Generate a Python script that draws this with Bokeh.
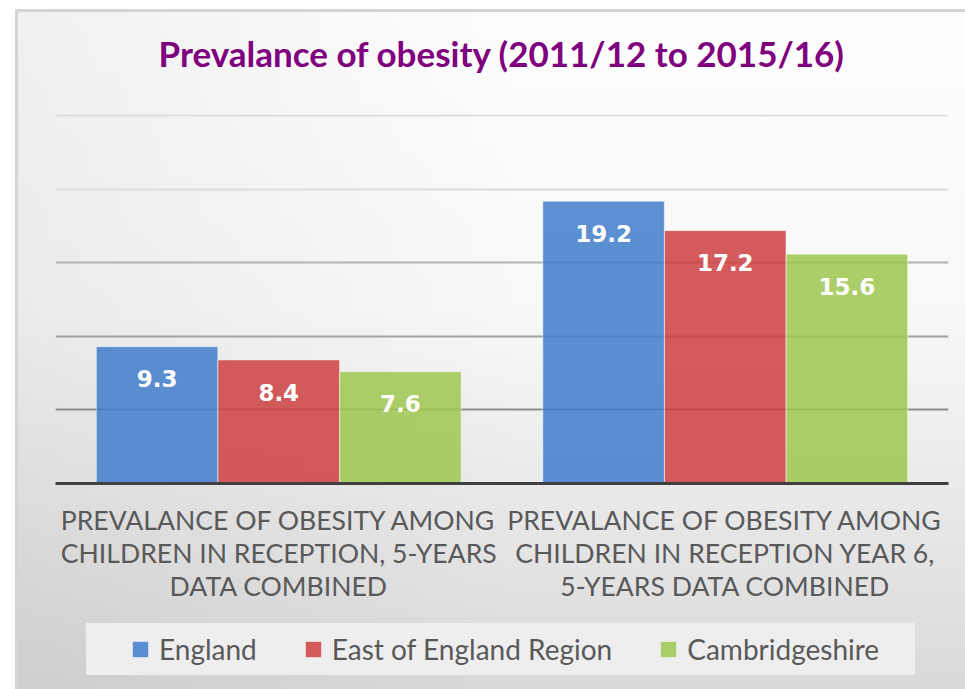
from bokeh.plotting import figure
from bokeh.layouts import column
from bokeh.models import (FactorRange, Range1d, ColumnDataSource, Grid, FixedTicker,
                          Legend, LegendItem)
from bokeh.transform import dodge
from bokeh.core.properties import value
from bokeh.embed import file_html
from bokeh.resources import INLINE

# ---- data ----
categories = [
    "PREVALANCE OF OBESITY AMONG\nCHILDREN IN RECEPTION, 5-YEARS\nDATA COMBINED",
    "PREVALANCE OF OBESITY AMONG\nCHILDREN IN RECEPTION YEAR 6,\n5-YEARS DATA COMBINED",
]
series_names = ["England", "East of England Region", "Cambridgeshire"]
england = [9.3, 19.2]
east_of_england = [8.4, 17.2]
cambridgeshire = [7.6, 15.6]

colors = ["#3F7CCA", "#CE403F", "#9FC74F"]
offsets = [-0.2725, 0.0, 0.2725]
series_cols = ["england", "east", "cambs"]
label_cols = ["england_lbl", "east_lbl", "cambs_lbl"]

src = ColumnDataSource(dict(
    cat=categories,
    england=england, east=east_of_england, cambs=cambridgeshire,
    england_lbl=[f"{v:.1f}" for v in england],
    east_lbl=[f"{v:.1f}" for v in east_of_england],
    cambs_lbl=[f"{v:.1f}" for v in cambridgeshire],
))


def transparent(fig):
    fig.background_fill_alpha = 0
    fig.border_fill_alpha = 0
    fig.outline_line_color = None


# ---- title strip ----
t = figure(width=965, height=80, x_range=Range1d(0, 1), y_range=Range1d(0, 1),
           x_axis_location=None, y_axis_location=None,
           output_backend="svg", toolbar_location=None,
           min_border_left=55, min_border_right=17, min_border_top=73, min_border_bottom=0,
           title="Prevalance of obesity (2011/12 to 2015/16)")
transparent(t)
t.grid.visible = False
t.title.align = "center"
t.title.text_font = "Lato"
t.title.text_font_style = "bold"
t.title.text_font_size = "35px"
t.title.text_color = "#7F007F"
t.title.standoff = 0

# ---- main chart ----
p = figure(x_range=FactorRange(factors=categories), y_range=Range1d(0, 25.1),
           frame_width=893, frame_height=369, output_backend="svg", toolbar_location=None,
           title_location=None, y_axis_location=None,
           min_border_left=55, min_border_right=17, min_border_top=34,
           min_border_bottom=127)
transparent(p)
p.xgrid.visible = False
p.ygrid.visible = False
for ticks, col in [([20, 25], "#dcdcdc"), ([15], "#b2b2b2"), ([10], "#a2a2a2"), ([5], "#8e8e8e")]:
    p.add_layout(Grid(dimension=1, ticker=FixedTicker(ticks=ticks),
                      grid_line_color=col, grid_line_width=2))

ax = p.xaxis[0]
ax.major_label_text_font = "Lato"
ax.major_label_text_font_size = "26.6px"
ax.major_label_text_color = "#595959"
ax.major_label_text_line_height = 1.04
ax.major_label_standoff = 14
ax.axis_line_color = "#404040"
ax.axis_line_width = 3
ax.major_tick_line_color = None
ax.minor_tick_line_color = None

for col, lbl, c, off in zip(series_cols, label_cols, colors, offsets):
    p.vbar(x=dodge("cat", off, range=p.x_range), top=col, width=0.272, source=src,
           fill_color=c, fill_alpha=0.85, line_color="#ffffff", line_alpha=0.45,
           line_width=1)
    p.text(x=dodge("cat", off, range=p.x_range), y=col, text=lbl, source=src,
           text_font=value("DejaVu Sans"), text_font_style="bold", text_font_size="23px",
           text_color="white", text_align="center", text_baseline="middle", y_offset=32)

# ---- legend strip (same series, drawn out of its visible range; only the legend shows) ----
lg = figure(width=965, height=79, x_range=FactorRange(factors=categories),
            y_range=Range1d(1000, 1001), x_axis_location=None, y_axis_location=None,
            title_location=None, output_backend="svg", toolbar_location=None,
            min_border_left=0, min_border_right=0, min_border_top=0, min_border_bottom=0)
transparent(lg)
lg.grid.visible = False
swatches = []
for col, c, off in zip(series_cols, colors, offsets):
    swatches.append(lg.vbar(x=dodge("cat", off, range=lg.x_range), top=col, width=0.272,
                            source=src, fill_color=c, fill_alpha=0.85,
                            line_color="#ffffff", line_alpha=0.45, line_width=1))

legend = Legend(items=[LegendItem(label=n, renderers=[r]) for n, r in zip(series_names, swatches)],
                orientation="horizontal", location=(75, 23),
                background_fill_alpha=0, border_line_color=None,
                label_text_font="Lato", label_text_font_size="28px", label_text_color="#595959",
                glyph_width=20, glyph_height=20, label_standoff=9, spacing=46,
                padding=0, margin=0)
lg.add_layout(legend)

layout = column(t, p, lg, spacing=0)
layout.styles = {
    "background": "linear-gradient(#eeeeee, #eeeeee) 86px 623px / 829px 52px no-repeat, "
                  "linear-gradient(to right, rgba(0,0,0,0.055) 0%, rgba(0,0,0,0) 55%), "
                  "linear-gradient(to bottom, #fefefe 0%, #f8f8f8 45%, #d9d9d9 100%)",
    "box-shadow": "inset 15px 9px 0 0 #ffffff, inset 18px 12px 0 0 #d4d4d4",
}

open("out.html", "w").write(file_html(layout, INLINE))
